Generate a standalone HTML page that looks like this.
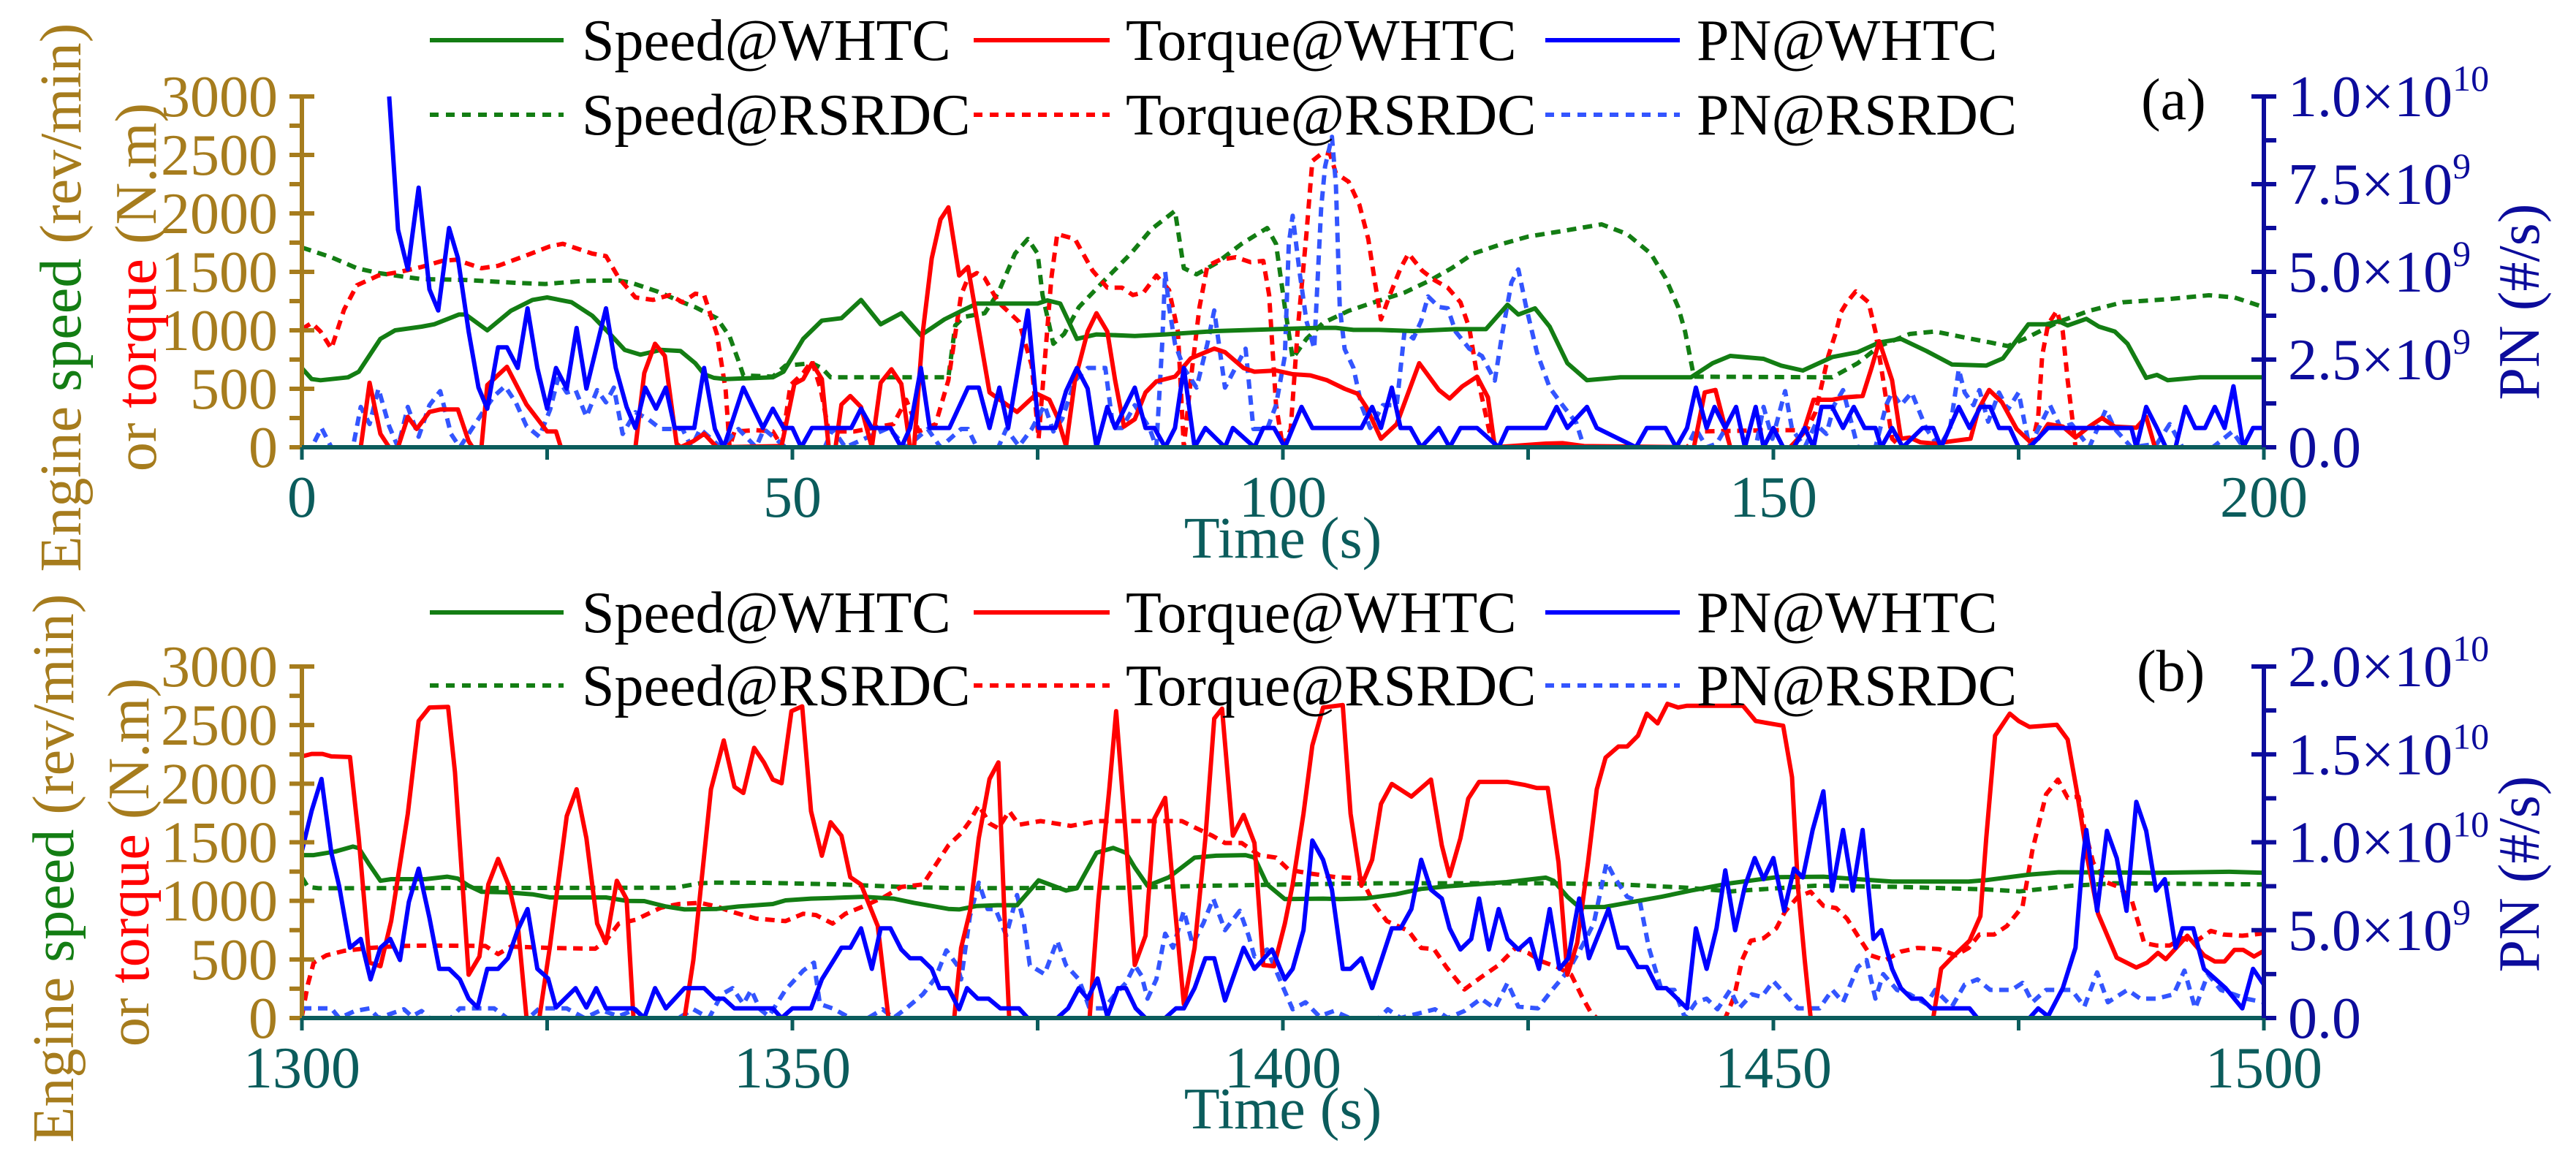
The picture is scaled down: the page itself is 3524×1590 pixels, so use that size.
<!DOCTYPE html>
<html>
<head>
<meta charset="utf-8">
<style>
html,body{margin:0;padding:0;background:#fff;}
svg{display:block;}
text{font-family:"Liberation Serif","DejaVu Serif",serif;}
</style>
</head>
<body>
<svg id="chart" xmlns="http://www.w3.org/2000/svg" width="3524" height="1590" viewBox="0 0 3524 1590">
<rect x="0" y="0" width="3524" height="1590" fill="#fff"/>
<defs>
<clipPath id="clipA"><rect x="413" y="126" width="2684" height="490"/></clipPath>
<clipPath id="clipB"><rect x="413" y="906" width="2684" height="491"/></clipPath>
</defs>
<g id="panelA"></g>
<g id="panelB"></g>
</svg>
<script>
// ---------- Panel (a) data: [time s, value] (speed rpm / torque N.m / PN in 1e9 #/s)
const aTicksX = [0,50,100,150,200];
const aTicksLeft = [0,500,1000,1500,2000,2500,3000];
const aTicksRight = [0,2.5,5,7.5,10];
const aRightLabels = [["0.0",""],["2.5×10","9"],["5.0×10","9"],["7.5×10","9"],["1.0×10","10"]];

const aSpeedWHTC = [[0,677],[1,583],[1.9,573],[4.7,598],[5.8,646],[8,927],[9.5,1000],[12.2,1031],[13.5,1052],[16,1135],[16.7,1135],[18.9,1000],[21.3,1167],[23.5,1260],[25,1281],[27.5,1240],[29.6,1125],[31.4,969],[32.9,833],[34.5,792],[36.6,833],[38.6,823],[40.1,719],[41,625],[42,594],[43.2,583],[48,598],[49.1,646],[51.1,927],[53,1083],[55,1104],[57,1260],[59,1052],[61.1,1146],[63.1,958],[65.5,1094],[67.5,1177],[68.8,1229],[75,1229],[76,1256],[77.3,1229],[79,927],[81,965],[84.9,952],[88,965],[93.2,994],[99.3,1010],[103.7,1021],[105.4,1021],[107.2,1004],[109.8,1004],[113.3,994],[117.6,1010],[120.7,1010],[122.9,1219],[124,1135],[125.7,1188],[127.2,1031],[129,719],[131,573],[134.4,598],[141.6,598],[143.8,719],[145.6,781],[149,756],[150.8,698],[153,656],[156,771],[158.6,813],[160.8,896],[163,927],[165.6,823],[168.2,708],[171.7,698],[173.4,760],[176,1052],[177.8,1052],[179.1,1077],[180,1042],[181.9,1098],[183.2,1031],[184.8,990],[186.1,885],[188,594],[189.1,619],[190.2,573],[193.5,598],[200,598]];
const aSpeedRSRDC = [[0,1708],[3,1625],[5.6,1531],[7.8,1490],[10.4,1458],[12.2,1438],[16.5,1431],[21.8,1406],[24.8,1396],[28.8,1423],[32.3,1427],[33.6,1406],[36.2,1333],[38.8,1240],[40.1,1198],[42.3,1104],[43.6,948],[44.5,740],[45,615],[48,604],[49.3,698],[52,719],[53,677],[53.9,598],[65.9,598],[66.6,1042],[67.5,1115],[69.6,1146],[71,1323],[72.7,1656],[74,1781],[75,1656],[75.5,1302],[76.6,885],[77.7,969],[79.2,1198],[81.8,1427],[84.5,1656],[86.6,1865],[89,2021],[89.9,1531],[91.2,1479],[93.2,1573],[95.8,1740],[98.4,1875],[99.3,1740],[100.2,1198],[101,760],[102.4,927],[104.1,1063],[106.7,1167],[109.3,1240],[112.4,1323],[115,1427],[117.2,1531],[119.4,1656],[122.4,1740],[125,1802],[128.1,1844],[132.5,1906],[135.1,1823],[137.5,1656],[139,1448],[140.3,1198],[141,990],[141.9,604],[156,598],[158.6,719],[160.8,865],[163.9,969],[166.5,990],[169.5,938],[172.1,896],[173.9,865],[175.6,927],[179.1,1073],[182.2,1167],[185.6,1240],[190,1265],[194.4,1300],[197,1281],[200,1198]];
const aTorqueWHTC = [[0,0],[6,0],[6.9,552],[8,115],[8.9,0],[9.8,0],[10.8,260],[11.7,156],[13,302],[14.1,323],[15.9,323],[17,52],[17.4,0],[18.3,0],[18.9,531],[20.9,688],[22.9,365],[25,135],[25.9,135],[26.4,0],[34,0],[34.9,635],[36,885],[37,781],[38.2,31],[38.6,0],[39.9,52],[41,115],[42.3,0],[48.9,10],[50.2,542],[51.1,583],[52,719],[53,583],[53.7,0],[54.4,0],[55,365],[55.9,438],[57,344],[58.1,0],[59,552],[60.1,667],[61.1,542],[62,0],[62.4,0],[63.3,990],[64.2,1615],[65.1,1948],[65.9,2052],[67,1469],[67.9,1542],[70.1,469],[72.9,302],[74.9,458],[76.2,406],[77,260],[77.9,10],[78.8,573],[80.1,990],[81,1146],[82.1,990],[82.9,573],[83.8,177],[84.9,240],[86,469],[87.1,563],[89,604],[90.6,760],[93,844],[94.1,813],[96,677],[97.1,646],[99.3,656],[101,625],[102.8,615],[104.5,573],[106.3,500],[107.6,458],[108.5,344],[110,73],[111.6,198],[113.9,719],[115.9,490],[117,417],[118.3,521],[119.8,604],[120.9,427],[121.6,0],[126.8,31],[128.5,35],[130.7,10],[141.9,0],[143,469],[144.1,490],[145.6,0],[151.7,0],[153,115],[154.1,406],[156,406],[157.3,427],[159.1,438],[160,677],[160.8,906],[162.1,573],[163,73],[163.9,83],[165,42],[166.5,31],[168.2,52],[170.1,73],[170.9,323],[172,490],[173.3,385],[174.8,156],[176.1,52],[177,73],[178,198],[179.5,177],[180.8,83],[182.2,177],[183.5,250],[184.8,177],[187,167],[188,260],[188.9,0],[200,0]];
const aTorqueRSRDC = [[0,1010],[1,1063],[1.9,990],[3,844],[4.3,1177],[5.6,1385],[7.8,1469],[10,1500],[12.2,1542],[14.3,1594],[15.7,1604],[18.3,1531],[20,1552],[22.7,1635],[25.3,1719],[26.6,1740],[29.6,1656],[31,1635],[32.3,1448],[34,1281],[35.8,1260],[37.5,1302],[38.8,1240],[40.1,1313],[41,1302],[42.3,969],[43.2,490],[43.6,0],[44.1,135],[46.3,146],[48,135],[48.9,10],[49.8,531],[51.1,635],[52,740],[52.9,490],[53.7,135],[56.3,135],[60.3,198],[61.6,406],[62.9,135],[64.6,198],[65.9,573],[67.2,1302],[67.9,1448],[68.8,1490],[69.6,1448],[71,1240],[73.1,1073],[74.4,700],[75.1,73],[76.4,1448],[77,1823],[78.8,1781],[80.6,1510],[82.1,1365],[83.6,1365],[84.7,1302],[85.8,1323],[87.1,1469],[88.4,1344],[89.3,990],[89.9,0],[90.6,573],[91.5,1198],[92.3,1552],[93.6,1604],[95.2,1625],[96.7,1583],[98,1594],[98.6,1302],[99.3,365],[100,0],[100.8,156],[101.5,990],[102.4,1823],[103,2448],[104.1,2521],[104.8,2510],[105.4,2344],[106.7,2271],[107.8,2073],[108.7,1781],[109.4,1406],[110,1094],[110.9,1302],[112,1531],[112.8,1656],[114.2,1510],[115.5,1427],[116.8,1365],[118.1,1240],[119,1021],[119.8,615],[121.1,115],[121.8,0],[141.2,0],[142.5,135],[149.9,146],[153.4,146],[154.3,302],[155.6,781],[156.4,990],[156.9,1156],[157.5,1240],[158.4,1333],[159.7,1240],[160.4,990],[161.2,573],[162.1,73],[163,0],[176,0],[176.5,73],[177,260],[177.4,781],[178,1052],[178.9,1167],[179.5,990],[180,573],[180.6,156],[180.8,0],[200,0]];
const aPnWHTC = [[8.9,10],[9.8,6.2],[10.8,5.07],[11.9,7.4],[13,4.5],[13.9,3.9],[15,6.25],[15.9,5.4],[17,3.3],[18,1.7],[18.9,1.1],[20,2.85],[20.9,2.85],[22,2.26],[23,3.96],[24,2.26],[25,1.1],[25.9,2.26],[27,1.67],[28,3.4],[29,1.67],[31,3.96],[32,2.26],[33.1,1.15],[34,0.55],[35,1.7],[36.1,1.1],[37.1,1.7],[38,0.55],[40,0.55],[41,2.26],[42.1,0.52],[43,0],[45,1.7],[47,0.55],[48,1.1],[49.1,0.55],[50,0.55],[50.9,0],[52,0.55],[56,0.55],[57,1.1],[58.1,0.55],[60,0.55],[61.1,0],[62,0.55],[63.1,2.26],[64,0.55],[66,0.55],[67.9,1.7],[69,1.7],[70.1,0.55],[71.1,1.7],[72,0.55],[74,3.9],[75.1,0.55],[76.8,0.55],[77.9,1.6],[79,2.26],[80.1,1.67],[81,0],[82.1,1.15],[82.9,0.55],[84.9,1.7],[86,0.55],[86.9,0.55],[88,0],[89,0.55],[89.9,2.26],[91,0],[92.1,0.55],[94.1,0],[94.9,0.55],[97.1,0],[98,0.55],[99.1,0.55],[100.2,0],[101.9,1.15],[103,0.55],[108,0.55],[109.1,1.15],[110,0.55],[111.1,1.7],[112,0.55],[113,0.55],[114.1,0],[115.9,0.55],[117,0],[118.1,0.55],[119.8,0.55],[122,0],[122.9,0.55],[126.8,0.55],[127.9,1.15],[129,0.55],[131,1.15],[132,0.55],[136,0],[137.1,0.55],[139,0.55],[140.1,0],[141.2,0.55],[142.1,1.7],[143.2,0.55],[144,1.15],[145.1,0.55],[146.2,1.15],[147.1,0],[148.2,1.15],[149,0],[150,0.55],[151,0],[152.1,0],[153.2,0.55],[154.1,0],[154.9,1.15],[156,1.15],[157.1,0.55],[158.2,1.15],[159.3,0.55],[160.4,0.55],[161,0],[162.1,0.55],[163.2,0],[165.2,0.55],[166.3,0.55],[167.1,0],[168.9,1.15],[170,0.55],[171.1,1.15],[172.1,1.15],[173,0.55],[174.1,0.55],[175,0],[176.1,0],[178,0.55],[186.5,0.55],[187,0],[188,1.15],[189.1,0.55],[190,0],[191,0],[192,1.15],[193,0.55],[194,0.55],[195,1.15],[196,0.55],[196.9,1.74],[197.9,0],[198.9,0.55],[200,0.55]];
const aPnRSRDC = [[0,0],[1,0],[2,0.55],[3,0],[5.2,0],[6,1.15],[6.9,0.66],[7.8,1.67],[8.9,0.6],[9.8,0],[10.8,1.15],[11.9,0.3],[13,1.2],[14.1,1.6],[15.2,0.38],[16.1,0],[18.3,0.94],[19.6,1.46],[20.7,1.74],[21.8,1.28],[22.9,0.6],[24.2,0.3],[25.3,1.07],[26.1,1.95],[27,1.56],[27.9,1.63],[29,0.87],[30.1,1.63],[31,1.28],[31.8,1.7],[32.7,0.38],[34,1.0],[35.3,0.8],[36.6,0.52],[38.8,0.52],[39.7,0],[40.6,0.52],[42.7,0],[44.5,0.52],[46.3,0],[47.1,0.52],[49.3,0],[53.3,0],[54.1,0.52],[55.4,0],[59.8,0.55],[61.6,0],[63.8,0.52],[65.1,0],[67.2,0.52],[67.9,0.52],[68.8,0],[71,0],[71.8,0.52],[73.1,0.03],[74.4,0.52],[75.7,1.2],[76.6,0.45],[77.5,0.8],[78.8,1.9],[80.1,2.26],[81.9,2.26],[82.7,0.55],[83.6,0.55],[84.9,1.2],[86.4,0.55],[87.1,0],[87.7,2.95],[88,5.0],[88.4,4.0],[89,2.95],[89.9,2.26],[91.2,1.7],[92.3,2.95],[93,3.9],[94.1,1.7],[96.2,2.81],[97,0.52],[98.4,0.52],[99.3,1.2],[100.2,2.6],[100.6,5.8],[101,6.6],[101.7,5.0],[102.4,3.6],[103.2,2.81],[103.9,6.8],[104.3,8.0],[105,8.85],[105.4,7.5],[105.8,4.0],[106.3,2.8],[107.2,2.26],[108,1.2],[108.9,0.55],[110.2,1.2],[111.6,1.2],[112.4,3.3],[113.3,3.1],[114.1,3.6],[114.8,4.3],[115.9,4.0],[116.8,3.96],[117.6,3.3],[119,2.81],[120.3,2.6],[121.6,1.9],[122.4,3.3],[123.3,4.7],[124,5.07],[124.8,4.0],[125.9,2.7],[127.2,1.7],[128.5,1.2],[129.9,0.7],[130.7,0],[141.2,0],[142.1,0.52],[143.2,0],[144.2,0.1],[145.1,0.52],[145.6,0],[148.2,0],[149,1.15],[149.9,0.24],[151.2,1.6],[151.9,0.52],[153.2,0],[154.3,0.66],[155.4,0.38],[156.2,1.2],[157.1,1.63],[158.6,0],[160.4,0],[161.5,1.2],[162.1,1.56],[163,1.2],[164.1,1.56],[165.6,0.52],[166.9,0],[168,0.52],[168.9,2.22],[169.5,1.56],[170.4,1.2],[171,1.63],[171.9,0.73],[173,1.56],[173.9,1.07],[175,1.56],[176.1,0],[178.2,1.2],[179.3,0.55],[180.4,0.66],[182.2,0],[183.9,1.07],[184.8,0.52],[186.5,0],[189.1,0.1],[190.4,0.66],[191.7,0],[194.8,0],[196.8,0.45],[197.9,0],[200,0]];

// ---------- Panel (b) data
const bTicksX = [1300,1350,1400,1450,1500];
const bTicksLeft = [0,500,1000,1500,2000,2500,3000];
const bTicksRight = [0,5,10,15,20];
const bRightLabels = [["0.0",""],["5.0×10","9"],["1.0×10","10"],["1.5×10","10"],["2.0×10","10"]];

const bSpeedWHTC = [[1300,1390],[1301.2,1390],[1303.4,1421],[1305.2,1463],[1305.8,1450],[1306.9,1306],[1308,1171],[1309.1,1185],[1312.6,1185],[1314.8,1206],[1315.9,1190],[1317,1129],[1318.3,1077],[1320.9,1073],[1323.5,1056],[1325.3,1029],[1331,1029],[1333.1,1000],[1334.9,998],[1337.1,952],[1339,927],[1342.3,931],[1344.5,952],[1348,973],[1349.3,1004],[1351.9,1019],[1354.1,1025],[1357.2,1035],[1360.3,1019],[1362.4,983],[1365.9,931],[1367,927],[1368.8,956],[1370.9,963],[1372.9,963],[1375.1,1175],[1377.9,1088],[1379,1108],[1381,1410],[1382.7,1452],[1384,1410],[1384.9,1285],[1386.2,1129],[1388.4,1202],[1391,1369],[1393.2,1385],[1396.2,1390],[1397.1,1370],[1398.4,1140],[1400.2,1015],[1404.1,1019],[1405.8,1015],[1408.4,1021],[1411.5,1056],[1414.1,1102],[1416.7,1123],[1419.4,1140],[1422.8,1160],[1426.8,1198],[1427.6,1171],[1429,1035],[1430.2,946],[1432.8,948],[1435.1,983],[1438.6,1035],[1441.6,1088],[1445.6,1150],[1450.3,1202],[1455.1,1206],[1458.6,1185],[1462.1,1165],[1469.9,1165],[1471.7,1177],[1476,1223],[1479.1,1244],[1489.1,1240],[1496.5,1248],[1500,1240]];
const bSpeedRSRDC = [[1300,1202],[1300.6,1119],[1301.7,1108],[1338,1112],[1340.6,1150],[1341.9,1156],[1347.1,1154],[1355,1140],[1361.1,1119],[1367.5,1108],[1384,1112],[1392.3,1129],[1401,1140],[1409.8,1150],[1427.2,1150],[1434.4,1140],[1441.2,1112],[1445.6,1081],[1454.2,1129],[1463,1119],[1471.7,1098],[1475.1,1081],[1480.4,1129],[1484.8,1150],[1500,1140]];
const bTorqueWHTC = [[1300,2233],[1301,2254],[1302.1,2254],[1303,2233],[1304.9,2227],[1305.8,1535],[1306.9,473],[1308,442],[1309.1,827],[1310.8,1744],[1311.9,2535],[1313,2650],[1314.9,2656],[1315.6,2098],[1317,369],[1318.1,525],[1319,1140],[1320,1358],[1321.1,1129],[1322,806],[1322.9,0],[1324.2,0],[1325.3,619],[1327,1723],[1328,1952],[1329,1535],[1330.1,806],[1331,640],[1332.1,1171],[1333.1,1015],[1333.8,0],[1339,0],[1339.9,494],[1341.7,1952],[1343,2369],[1344.1,1973],[1345,1921],[1346.1,2306],[1347.1,2181],[1348,2035],[1348.9,2004],[1349.9,2619],[1351,2660],[1351.9,1765],[1353,1385],[1353.9,1671],[1355,1556],[1355.9,1202],[1357,1140],[1358.7,785],[1359.8,0],[1366.5,0],[1367.2,598],[1368.1,910],[1369,1535],[1370.1,2040],[1371,2181],[1371.6,910],[1372.1,0],[1380.3,0],[1381.2,1015],[1382.3,1952],[1383,2619],[1384,1535],[1384.9,452],[1386,702],[1386.9,1702],[1388,1879],[1388.8,1119],[1389.9,119],[1391,598],[1392.1,1535],[1393,2556],[1393.8,2640],[1394.9,1556],[1396,1733],[1397.1,1494],[1398,452],[1399.1,442],[1400.2,806],[1401,1140],[1402.1,1744],[1403,2327],[1404.1,2650],[1406.1,2671],[1406.9,1744],[1408,1129],[1409.1,1350],[1410,1827],[1411.1,1998],[1413.1,1890],[1415.1,2035],[1416.2,1473],[1417,1212],[1418.1,1535],[1418.9,1873],[1420,2015],[1422.9,2015],[1424.6,1990],[1425.9,1963],[1427,1963],[1428.1,1327],[1429,369],[1430,640],[1431.1,1327],[1432,1952],[1432.9,2223],[1434.2,2317],[1435.1,2317],[1436.2,2410],[1437.1,2598],[1438.2,2515],[1439.2,2681],[1440.3,2650],[1441.2,2665],[1446.9,2665],[1448.2,2535],[1451,2494],[1451.9,2056],[1452.5,1119],[1453.2,494],[1453.8,0],[1466.3,0],[1467.1,421],[1468.2,515],[1470,660],[1471.1,869],[1471.7,1535],[1472.6,2410],[1474.1,2598],[1475,2535],[1476.1,2485],[1478.9,2502],[1480,2377],[1480.9,1952],[1482,1369],[1483.1,890],[1485,515],[1487,431],[1488.1,473],[1489.2,556],[1490,502],[1492.2,702],[1493.9,535],[1495,483],[1496,483],[1497,581],[1497.9,581],[1499,525],[1500,573]];
const bTorqueRSRDC = [[1300,15],[1300.6,285],[1301.2,473],[1302.5,535],[1304.3,573],[1306.9,598],[1310,615],[1313,619],[1318.7,615],[1320,546],[1321.3,610],[1325.3,598],[1329.9,592],[1331,660],[1332.3,806],[1334,838],[1336.6,942],[1338.4,973],[1340.6,983],[1342.3,952],[1343.7,910],[1346.3,848],[1349.3,827],[1351.1,890],[1352.4,879],[1354.1,806],[1355.4,890],[1357.2,952],[1359.4,1035],[1361.1,1119],[1363.3,1140],[1364.6,1306],[1365.9,1473],[1367.2,1577],[1368.1,1681],[1369,1817],[1370.1,1660],[1371,1619],[1372.1,1765],[1373.1,1650],[1375.3,1681],[1378.4,1640],[1381,1681],[1389.7,1681],[1391.2,1619],[1392.8,1556],[1394.1,1494],[1395.8,1494],[1397.6,1390],[1399.3,1369],[1400.6,1265],[1402.8,1233],[1405.4,1202],[1408,1192],[1409.3,973],[1410.6,827],[1412.8,744],[1414.1,598],[1415.4,588],[1416.7,431],[1418.5,244],[1420.2,348],[1422,452],[1423.7,598],[1425,556],[1426.4,483],[1428.1,431],[1429.4,369],[1430.5,181],[1431.4,46],[1432,0],[1445.1,0],[1446,181],[1446.8,494],[1447.7,660],[1449,681],[1450.3,765],[1451.2,910],[1452.5,1035],[1453.8,1077],[1455.1,958],[1456.4,938],[1457.5,848],[1458.6,702],[1459.9,535],[1461.4,494],[1463,567],[1464.7,598],[1466.9,588],[1468.6,535],[1469.9,598],[1471,712],[1472.5,712],[1473.8,785],[1475.4,952],[1476.4,1431],[1477.8,1910],[1479,2035],[1480,1879],[1481.1,1890],[1481.7,1619],[1482.6,1327],[1483.9,1160],[1485.2,1119],[1486.5,1015],[1487.8,640],[1489.1,619],[1490.4,619],[1491.7,681],[1493,650],[1494.6,744],[1495.9,712],[1497.8,702],[1500,723]];
const bPnWHTC = [[1300,9.5],[1301,11.8],[1302,13.6],[1303,9.4],[1303.8,7.5],[1304.9,4.0],[1306,4.5],[1307,2.2],[1308,4.0],[1309,4.5],[1310,3.3],[1310.9,6.6],[1311.9,8.5],[1313,5.7],[1314,2.8],[1315,2.8],[1316.1,2.2],[1317,1.1],[1317.9,0.6],[1318.9,2.8],[1320,2.8],[1321,3.4],[1322,5.0],[1323,6.2],[1324,2.8],[1325.1,2.25],[1325.9,0.6],[1327.9,1.7],[1329,0.6],[1330,1.7],[1331,0.55],[1333.8,0.55],[1334.9,0],[1336,1.7],[1337.1,0.55],[1339,1.7],[1341,1.7],[1342.1,1.1],[1343,1.1],[1344.1,0.55],[1348,0.55],[1348.9,0],[1350,0.55],[1351.9,0.55],[1353,2.2],[1355,4.0],[1355.9,4.0],[1357,5.1],[1358.1,2.8],[1359,5.1],[1360,5.1],[1361.1,3.9],[1362,3.4],[1363.1,3.4],[1364.2,2.8],[1365,1.7],[1365.9,1.7],[1367,0.5],[1367.8,1.7],[1368.9,1.1],[1370,1.1],[1371.2,0.55],[1373.1,0.55],[1374,0],[1377,0],[1378.1,0.55],[1379.2,1.7],[1380.1,1.1],[1381.1,2.25],[1382.1,0.1],[1383.2,1.7],[1384,1.7],[1385,0.55],[1386,0],[1388,0],[1389.1,0.55],[1389.9,0.55],[1391,1.7],[1392.1,3.4],[1393,3.4],[1394.1,1.0],[1396,4.0],[1397.1,2.8],[1398.9,3.9],[1400.2,2.2],[1401,2.8],[1402.1,5.0],[1403,10.1],[1404.1,9.0],[1405,7.3],[1406.1,2.8],[1406.9,2.8],[1408,3.4],[1409.1,1.7],[1411.1,5.1],[1412,5.1],[1413.1,6.2],[1414.1,9.0],[1415.1,7.3],[1416.2,6.8],[1417,5.1],[1418.1,3.9],[1419.2,4.5],[1420,6.8],[1421,3.9],[1422,6.2],[1422.9,4.5],[1424,3.9],[1425.2,4.5],[1426.1,2.8],[1427.2,6.2],[1428.2,2.8],[1429.1,3.4],[1430.2,6.8],[1431.2,3.4],[1432.5,5.2],[1433.2,6.2],[1434.2,4.0],[1435.1,4.0],[1436.2,2.9],[1437.1,2.9],[1438.2,1.7],[1439.1,1.7],[1440.2,1.1],[1441.2,0.55],[1442.1,5.1],[1443.2,2.8],[1444.2,5.1],[1445.1,8.4],[1446.1,5.0],[1447.1,7.5],[1448.1,9.1],[1449,7.9],[1450,9.1],[1451.1,6.1],[1452.1,8.5],[1453,8.0],[1454,10.7],[1455.1,12.9],[1456,7.25],[1457.1,10.7],[1458.1,7.25],[1459.1,10.7],[1460.2,4.5],[1461,5.0],[1462.1,2.8],[1463,1.7],[1464.1,1.1],[1465.1,1.1],[1466.1,0.55],[1470,0.55],[1470.8,0],[1476.1,0],[1477,0.55],[1478,0.1],[1479.5,1.7],[1480.8,4.0],[1481.5,8.8],[1481.9,10.7],[1483,6.1],[1484,10.65],[1485,9.1],[1486,6.1],[1487,12.3],[1488,10.65],[1489,7.25],[1489.9,7.9],[1491,4.0],[1491.7,5.1],[1492.8,5.1],[1493.9,2.8],[1495,2.25],[1496.1,1.7],[1497.8,0.55],[1498.9,2.8],[1500,1.9]];
const bPnRSRDC = [[1300,0.55],[1303,0.55],[1303.8,0],[1305.4,0.4],[1306.9,0.55],[1307.8,0],[1309.1,0.25],[1310.4,0.5],[1311.2,0.1],[1312.2,0.4],[1313,0],[1315.2,0],[1316.1,0.55],[1319.6,0.55],[1320.9,0],[1323.1,0],[1324.2,0.55],[1327,0.55],[1328.8,0],[1330.5,0.45],[1332.3,0.1],[1334,0.5],[1334.9,0],[1338.4,0],[1339.9,0.5],[1341.5,0],[1342.8,1.35],[1343.9,1.7],[1345,0.8],[1345.8,1.6],[1346.7,0.5],[1347.6,0.1],[1349.3,1.6],[1351.1,2.7],[1352.2,3.15],[1352.8,0.8],[1354.1,0.55],[1355.9,0],[1357.7,0],[1359.2,0.5],[1360.3,0],[1361.6,0.55],[1363.3,1.35],[1364.6,2.3],[1365.7,3.85],[1366.8,3.0],[1367.2,2.2],[1368.1,5.8],[1369,7.7],[1369.9,6.2],[1370.7,6.2],[1371.8,4.7],[1372.9,7.0],[1373.6,5.4],[1374.2,3.0],[1375.7,2.5],[1377,4.4],[1377.9,3.0],[1379.2,2.2],[1380.3,0.55],[1381.8,0.55],[1382.9,1.35],[1384,2.0],[1384.9,3.0],[1385.6,2.4],[1386.2,1.1],[1387.1,2.2],[1388,4.8],[1388.8,4.0],[1389.9,6.1],[1390.8,4.2],[1391.9,5.4],[1392.9,6.8],[1394.1,5.0],[1395.6,6.1],[1396.5,4.7],[1397.1,3.5],[1398.4,3.9],[1399.9,1.9],[1401,0.5],[1402.3,0.9],[1403.7,0.1],[1405.2,0.4],[1406.8,0],[1409.8,0],[1410.7,0.5],[1412,0],[1415.5,0.5],[1416.8,0],[1418.5,0.4],[1420.2,1.1],[1421.6,0.55],[1422.9,2.0],[1424,0.65],[1426,0.55],[1427.3,1.5],[1429.1,2.7],[1430.6,4.2],[1431.7,5.4],[1433,8.85],[1433.8,8.0],[1435.1,6.9],[1436.4,6.6],[1437.3,4.0],[1438.6,1.6],[1439.9,1.6],[1441,0],[1442.1,0.9],[1443.2,1.1],[1444.3,0.5],[1445.6,1.6],[1446.5,0.55],[1447.8,1.35],[1448.8,1.2],[1450,2.1],[1451.2,1.35],[1452.5,0.55],[1454.7,0.55],[1456,1.6],[1457.1,0.9],[1458.6,2.9],[1459.5,3.3],[1460.4,1.1],[1461.2,2.5],[1462.6,1.6],[1463.9,1.35],[1465.6,0.8],[1466.5,1.6],[1468.2,0.65],[1469.5,1.9],[1470.8,2.2],[1472.1,1.6],[1474.3,1.6],[1475.4,2.0],[1476.4,0.9],[1477.8,1.6],[1479.1,1.6],[1480.4,1.6],[1481.7,0.65],[1483,2.6],[1484.1,0.9],[1486.1,1.6],[1487.4,1.1],[1489.1,1.1],[1490.8,1.35],[1491.9,2.7],[1493,0.55],[1494.3,2.5],[1495.6,1.6],[1496.9,1.35],[1498.2,1.1],[1500,0.9]];

// ---------- rendering
const NS = 'http://www.w3.org/2000/svg';
const GOLD = '#A67C1D', TEAL = '#0B5C5C', NAVY = '#0C0C9C';
const GREEN = '#137D13', RED = '#FF0000', BLUE = '#0000FF', LBLUE = '#3355FF';
const X0 = 413, X1 = 3097;

function el(tag, attrs, parent) {
  const e = document.createElementNS(NS, tag);
  for (const k in attrs) e.setAttribute(k, attrs[k]);
  parent.appendChild(e);
  return e;
}

function makeAxes(cfg) {
  const xs = t => X0 + (t - cfg.tMin) / (cfg.tMax - cfg.tMin) * (X1 - X0);
  const yL = v => cfg.y0 - v / cfg.lMax * (cfg.y0 - cfg.yTop);
  const yR = p => cfg.y0 - p / cfg.rMax * (cfg.y0 - cfg.yTop);
  return {xs, yL, yR};
}

function pathD(pairs, fx, fy) {
  return pairs.map((p, i) => (i ? 'L' : 'M') + fx(p[0]).toFixed(1) + ' ' + fy(p[1]).toFixed(1)).join(' ');
}

function drawPanel(root, cfg) {
  const ax = makeAxes(cfg);
  const g = root;
  // series
  const sg = el('g', {'clip-path': 'url(#' + cfg.clip + ')'}, g);
  
  
  cfg.series.forEach(s => {
    const fy = s.axis === 'R' ? ax.yR : ax.yL;
    const p = el('path', {d: pathD(s.data, ax.xs, fy), fill: 'none', stroke: s.color, 'stroke-width': 6,
      'stroke-linejoin': 'round', 'stroke-dasharray': s.dash || 'none'}, sg);
    
    
  });
  // left axis
  const la = el('g', {}, g);
  
  
  el('line', {x1: X0, y1: cfg.y0 + 3, x2: X0, y2: cfg.yTop - 3, stroke: GOLD, 'stroke-width': 6}, la);
  for (let v = 0; v <= cfg.lMax; v += 250) {
    const y = ax.yL(v);
    const major = v % 500 === 0;
    el('line', {x1: X0 - 17, y1: y, x2: major ? X0 + 17 : X0, y2: y, stroke: GOLD, 'stroke-width': 6}, la);
  }
  cfg.ticksLeft.forEach(v => {
    const t = el('text', {x: 380, y: ax.yL(v) + 27, 'text-anchor': 'end', 'font-size': 80, fill: GOLD}, la);
    t.textContent = v;
    
    
  });
  // right axis
  const ra = el('g', {}, g);
  
  
  el('line', {x1: X1, y1: cfg.y0 + 3, x2: X1, y2: cfg.yTop - 3, stroke: NAVY, 'stroke-width': 6}, ra);
  const step = cfg.ticksRight[1] - cfg.ticksRight[0];
  for (let k = 0; k <= cfg.rMax / step * 2 + 0.01; k++) {
    const p = k * step / 2;
    const y = ax.yR(p);
    const major = k % 2 === 0;
    el('line', {x1: major ? X1 - 17 : X1, y1: y, x2: X1 + 17, y2: y, stroke: NAVY, 'stroke-width': 6}, ra);
  }
  cfg.ticksRight.forEach((p, i) => {
    const t = el('text', {x: 3130, y: ax.yR(p) + 27, 'font-size': 80, fill: NAVY}, ra);
    
    
    const lab = cfg.rightLabels[i];
    const a = el('tspan', {}, t); a.textContent = lab[0];
    if (lab[1]) { const b = el('tspan', {dy: -35, 'font-size': 50}, t); b.textContent = lab[1]; }
  });
  // x axis
  const xa = el('g', {}, g);
  
  
  el('line', {x1: X0, y1: cfg.y0, x2: X1 - 3, y2: cfg.y0, stroke: TEAL, 'stroke-width': 6}, xa);
  const xstep = (cfg.tMax - cfg.tMin) / 8;
  for (let k = 0; k <= 8; k++) {
    const x = ax.xs(cfg.tMin + k * xstep);
    el('line', {x1: x, y1: cfg.y0, x2: x, y2: cfg.y0 + 17, stroke: TEAL, 'stroke-width': 5}, xa);
  }
  cfg.ticksX.forEach(tv => {
    const t = el('text', {x: ax.xs(tv), y: cfg.y0 + 95, 'text-anchor': 'middle', 'font-size': 80, fill: TEAL}, xa);
    t.textContent = tv;
    
    
  });
  const xt = el('text', {x: 1755, y: cfg.y0 + 151, 'text-anchor': 'middle', 'font-size': 80, fill: TEAL}, xa);
  xt.textContent = 'Time (s)';
  
  
  // left titles
  const t1 = el('text', {transform: 'translate(' + cfg.engX + ',' + cfg.engY + ') rotate(-90)', 'text-anchor': 'middle', 'font-size': 80, fill: GOLD}, g);
  
  
  el('tspan', {}, t1).textContent = 'Engine ';
  el('tspan', {fill: GREEN}, t1).textContent = 'speed';
  el('tspan', {}, t1).textContent = ' (rev/min)';
  const t2 = el('text', {transform: 'translate(' + cfg.trqX + ',' + cfg.trqY + ') rotate(-90)', 'text-anchor': 'middle', 'font-size': 80, fill: GOLD}, g);
  
  
  el('tspan', {}, t2).textContent = 'or ';
  el('tspan', {fill: RED}, t2).textContent = 'torque';
  el('tspan', {}, t2).textContent = ' (N.m)';
  const t3 = el('text', {transform: 'translate(3473,' + cfg.pnY + ') rotate(-90)', 'text-anchor': 'middle', 'font-size': 80, fill: NAVY}, g);
  t3.textContent = 'PN (#/s)';
  
  
  // panel tag
  const tg = el('text', {x: cfg.tagX, y: cfg.tagY, 'font-size': 80, fill: '#000'}, g);
  tg.textContent = cfg.tag;
  
  
  // legend
  const lg = el('g', {}, g);
  
  
  const cols = [[588, 771, 796], [1332, 1518, 1540], [2114, 2298, 2321]];
  cfg.legend.forEach((s, i) => {
    const c = cols[i % 3];
    const y = i < 3 ? cfg.legY1 : cfg.legY2;
    const e = el('g', {}, lg);
    
    
    el('line', {x1: c[0], y1: y, x2: c[1], y2: y, stroke: s.color, 'stroke-width': 6, 'stroke-dasharray': s.dash || 'none'}, e);
    const tx = el('text', {x: c[2], y: y + 27, 'font-size': 80, fill: '#000'}, e);
    tx.textContent = s.label;
  });
}

const DASH = '13 9';
const aSeries = [
  {name: 'speed-rsrdc-line', data: aSpeedRSRDC, color: GREEN, dash: DASH, axis: 'L'},
  {name: 'torque-rsrdc-line', data: aTorqueRSRDC, color: RED, dash: DASH, axis: 'L'},
  {name: 'pn-rsrdc-line', data: aPnRSRDC, color: LBLUE, dash: DASH, axis: 'R'},
  {name: 'speed-whtc-line', data: aSpeedWHTC, color: GREEN, axis: 'L'},
  {name: 'torque-whtc-line', data: aTorqueWHTC, color: RED, axis: 'L'},
  {name: 'pn-whtc-line', data: aPnWHTC, color: BLUE, axis: 'R'}
];
const bSeries = [
  {name: 'speed-rsrdc-line', data: bSpeedRSRDC, color: GREEN, dash: DASH, axis: 'L'},
  {name: 'torque-rsrdc-line', data: bTorqueRSRDC, color: RED, dash: DASH, axis: 'L'},
  {name: 'pn-rsrdc-line', data: bPnRSRDC, color: LBLUE, dash: DASH, axis: 'R'},
  {name: 'speed-whtc-line', data: bSpeedWHTC, color: GREEN, axis: 'L'},
  {name: 'torque-whtc-line', data: bTorqueWHTC, color: RED, axis: 'L'},
  {name: 'pn-whtc-line', data: bPnWHTC, color: BLUE, axis: 'R'}
];
const legendItems = [
  {label: 'Speed@WHTC', color: GREEN}, {label: 'Torque@WHTC', color: RED}, {label: 'PN@WHTC', color: BLUE},
  {label: 'Speed@RSRDC', color: GREEN, dash: '12 10'}, {label: 'Torque@RSRDC', color: RED, dash: '12 10'}, {label: 'PN@RSRDC', color: LBLUE, dash: '12 10'}
];

drawPanel(document.getElementById('panelA'), {
  key: 'panel-a', clip: 'clipA', tMin: 0, tMax: 200, y0: 612, yTop: 132, lMax: 3000, rMax: 10,
  ticksX: aTicksX, ticksLeft: aTicksLeft, ticksRight: aTicksRight, rightLabels: aRightLabels,
  series: aSeries, legend: legendItems, legY1: 55, legY2: 157,
  engX: 110, engY: 407, trqX: 213, trqY: 393, pnY: 413, tag: '(a)', tagX: 2929, tagY: 163
});
drawPanel(document.getElementById('panelB'), {
  key: 'panel-b', clip: 'clipB', tMin: 1300, tMax: 1500, y0: 1393, yTop: 912, lMax: 3000, rMax: 20,
  ticksX: bTicksX, ticksLeft: bTicksLeft, ticksRight: bTicksRight, rightLabels: bRightLabels,
  series: bSeries, legend: legendItems, legY1: 838, legY2: 938,
  engX: 100, engY: 1188, trqX: 203, trqY: 1180, pnY: 1196, tag: '(b)', tagX: 2923, tagY: 945
});
</script>
</body>
</html>
